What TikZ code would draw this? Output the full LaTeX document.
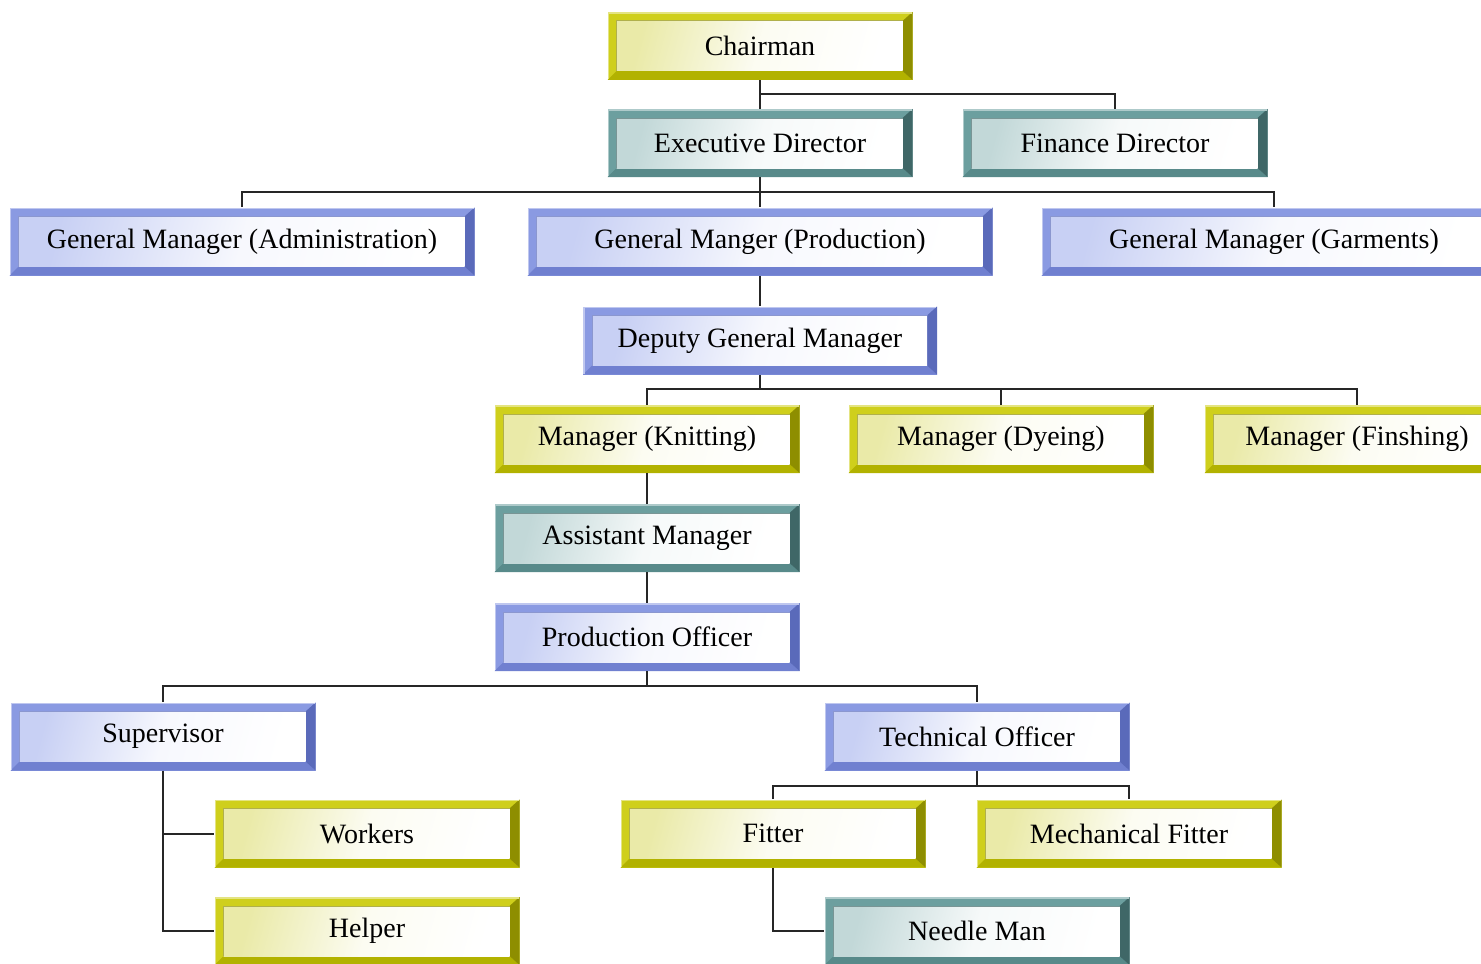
\documentclass[tikz,border=0pt]{standalone}
\usepackage{fontspec}
\setmainfont{Liberation Serif}
\definecolor{yframe}{HTML}{CFCF1C}
\definecolor{ydark}{HTML}{8E8E00}
\definecolor{ybottom}{HTML}{B2B200}
\definecolor{ytint}{HTML}{EAEAA8}
\definecolor{tframe}{HTML}{6C9F9F}
\definecolor{tdark}{HTML}{3F6767}
\definecolor{tbottom}{HTML}{588A8A}
\definecolor{ttint}{HTML}{C2D8D8}
\definecolor{bframe}{HTML}{8A9AE2}
\definecolor{bdark}{HTML}{5A6ABA}
\definecolor{bbottom}{HTML}{7080D0}
\definecolor{btint}{HTML}{C8D0F4}
\begin{document}
\begin{tikzpicture}[x=0.5pt,y=-0.5pt,
  % bevelled frame: #1 frame, #2 right bevel, #3 bottom bevel, #4 inner tint
  framed/.style n args={4}{
    inner sep=0pt, minimum height=34pt, minimum width=152.5pt,
    font=\fontsize{14}{16}\selectfont,
    path picture={
      \path (path picture bounding box.south west) coordinate (pp-sw)
            (path picture bounding box.north east) coordinate (pp-ne)
            (path picture bounding box.south east) coordinate (pp-se)
            (path picture bounding box.north west) coordinate (pp-nw);
      \fill[#1] (pp-sw) rectangle (pp-ne);
      \fill[#3] (pp-sw) -- (pp-se) -- ([xshift=-5pt,yshift=4.5pt]pp-se)
                -- ([xshift=4.5pt,yshift=4.5pt]pp-sw) -- cycle;
      \fill[#2] (pp-se) -- (pp-ne) -- ([xshift=-5pt,yshift=-4.5pt]pp-ne)
                -- ([xshift=-5pt,yshift=4.5pt]pp-se) -- cycle;
      \draw[#1!55!white, line width=0.8pt]
            ([xshift=0.4pt,yshift=0.4pt]pp-sw) -- ([xshift=0.4pt,yshift=-0.4pt]pp-nw)
            -- ([xshift=-0.4pt,yshift=-0.4pt]pp-ne);
      \shade[left color=#4, right color=white, middle color=white!85!#4, shading angle=75]
            ([xshift=4.5pt,yshift=4.5pt]pp-sw) rectangle ([xshift=-5pt,yshift=-4.5pt]pp-ne);
      \draw[#2!70, line width=0.5pt]
            ([xshift=4.5pt,yshift=4.5pt]pp-sw) -- ([xshift=4.5pt,yshift=-4.5pt]pp-nw)
            -- ([xshift=-5pt,yshift=-4.5pt]pp-ne);
    }
  },
  ybox/.style={framed={yframe}{ydark}{ybottom}{ytint}},
  tbox/.style={framed={tframe}{tdark}{tbottom}{ttint}},
  bbox/.style={framed={bframe}{bdark}{bbottom}{btint}},
  wide/.style={minimum width=232.5pt},
  link/.style={draw=black!85, line width=1pt}
]
\useasboundingbox (0,0) rectangle (1481,963);
\clip (0,0) rectangle (1481,963);

% top management
\node[ybox] (chair) at (760,46) {Chairman};
\node[tbox] (exec) at (760,143) {Executive Director};
\node[tbox] (fin) at (1115,143) {Finance Director};

% general managers
\node[bbox, wide] (gmadm) at (242,241.5) {General Manager (Administration)};
\node[bbox, wide] (gmpro) at (760,241.5) {General Manger (Production)};
\node[bbox, wide] (gmgar) at (1274,241.5) {General Manager (Garments)};
\node[bbox, minimum width=177pt] (dgm) at (760,340.5) {Deputy General Manager};

% managers
\node[ybox] (mknit) at (647,439) {Manager (Knitting)};
\node[ybox] (mdye) at (1001,439) {Manager (Dyeing)};
\node[ybox] (mfin) at (1357,439) {Manager (Finshing)};

% production line
\node[tbox] (asst) at (647,538) {Assistant Manager};
\node[bbox] (po) at (647,637) {Production Officer};
\node[bbox] (sup) at (163,736.5) {Supervisor};
\node[bbox] (tech) at (977,736.5) {Technical Officer};
\node[ybox] (work) at (367,833.5) {Workers};
\node[ybox] (help) at (367,931) {Helper};
\node[ybox] (fit) at (773,833.5) {Fitter};
\node[ybox] (mech) at (1129,833.5) {Mechanical Fitter};
\node[tbox] (needle) at (977,931) {Needle Man};

% connectors
\draw[link] (chair) -- (exec);
\draw[link] (chair.south) -- ++(0,14) -| (fin.north);

\draw[link] (exec.south) -- ++(0,14.5) coordinate (b1);
\draw[link] (gmadm.north) |- (b1) -| (gmgar.north);
\draw[link] (b1) -- (gmpro.north);
\draw[link] (gmpro) -- (dgm);

\draw[link] (dgm.south) -- ++(0,14.5) coordinate (b2);
\draw[link] (mknit.north) |- (b2) -| (mfin.north);
\draw[link] (b2) -| (mdye.north);

\draw[link] (mknit) -- (asst);
\draw[link] (asst) -- (po);

\draw[link] (po.south) -- ++(0,15) coordinate (b3);
\draw[link] (sup.north) |- (b3) -| (tech.north);

\draw[link] (sup.south) |- (work.west);
\draw[link] (sup.south) |- (help.west);

\draw[link] (tech.south) -- ++(0,15) coordinate (b4);
\draw[link] (fit.north) |- (b4) -| (mech.north);
\draw[link] (fit.south) |- (needle.west);
\end{tikzpicture}
\end{document}
